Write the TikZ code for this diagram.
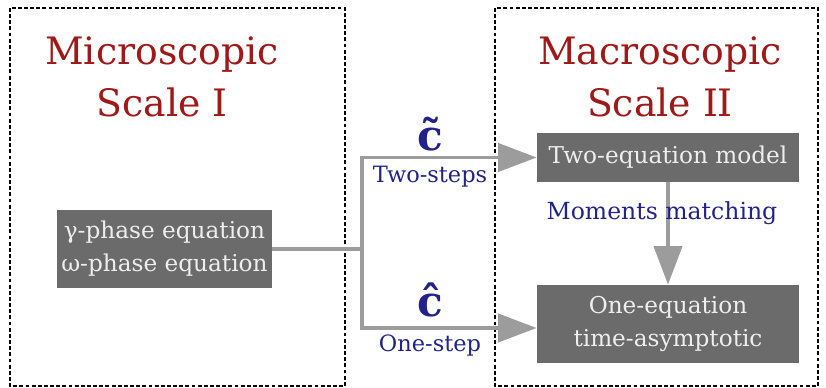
\documentclass[tikz,border=0pt]{standalone}
\usepackage{fontspec}
\setmainfont{DejaVu Serif}
\usetikzlibrary{arrows.meta}

\definecolor{titlered}{HTML}{A01818}
\definecolor{tagblue}{HTML}{22228A}
\definecolor{boxgray}{HTML}{6B6B6B}
\definecolor{boxtext}{HTML}{EEEEEE}
\definecolor{linkgray}{HTML}{9C9C9C}

\tikzset{
  scaleframe/.style={draw=black, line width=1.5pt, dash pattern=on 2.2pt off 1.3pt},
  scaletitle/.style={text=titlered, align=center, font=\fontsize{21.5}{30}\selectfont},
  eqbox/.style={fill=boxgray, text=boxtext, align=center, inner sep=0pt,
    font=\fontsize{13.2}{18.7}\selectfont},
  flowline/.style={draw=linkgray, line width=2.2pt},
  flowarrow/.style={flowline, -{Triangle[length=22pt,width=16pt]}},
  steplabel/.style={text=tagblue, font=\fontsize{12.8}{14}\selectfont},
  hatlabel/.style={text=tagblue, font=\fontsize{24}{26}\bfseries\selectfont},
}

\begin{document}
\begin{tikzpicture}[x=0.02cm, y=-0.02cm]
\useasboundingbox (0,0) rectangle (826,388);

% Dashed frames for scale I and scale II
\draw[scaleframe] (10,8) rectangle (345,386);
\draw[scaleframe] (495,8) rectangle (818,386);

% Titles
\node[scaletitle] (micro) at (162,77) {Microscopic\\Scale I};
\node[scaletitle] (macro) at (660,77) {Macroscopic\\Scale II};

% Equation boxes
\node[eqbox, minimum width=4.3cm, minimum height=1.56cm] (phase) at (164.5,249)
  {γ-phase equation\\ω-phase equation};
\node[eqbox, minimum width=5.24cm, minimum height=0.98cm] (two) at (668,157.5)
  {Two-equation model};
\node[eqbox, minimum width=5.24cm, minimum height=1.56cm] (one) at (668,324)
  {One-equation\\time-asymptotic};

% Split point and connectors
\coordinate (split) at (362,249);
\draw[flowline] (phase.east) -- (split);
\draw[flowarrow] (split) |- (two.west);
\draw[flowarrow] (split) |- (one.west |- 0,328);
\draw[flowarrow] (two) -- (one);

% Labels on the connectors
\node[hatlabel] (ctilde) at (430,134) {\~{c}};
\node[steplabel] (twostep) at (430,177) {Two-steps};
\node[hatlabel] (chat) at (430,300) {\^{c}};
\node[steplabel] (onestep) at (430,345) {One-step};
\node[steplabel, font=\fontsize{13.4}{15}\selectfont] (moments) at (662,213) {Moments matching};

\end{tikzpicture}
\end{document}
